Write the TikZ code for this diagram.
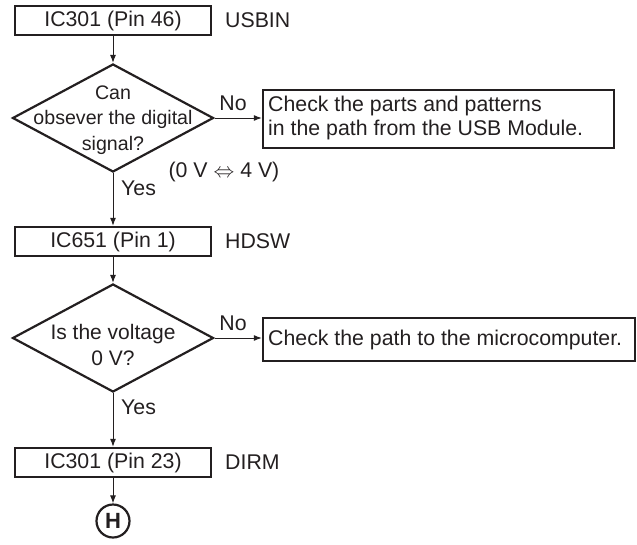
\documentclass[tikz,border=0pt]{standalone}
\usepackage{fontspec}
\setmainfont{Liberation Sans}
\usetikzlibrary{shapes.geometric,arrows.meta}
\definecolor{ink}{RGB}{35,31,32}
\tikzset{
  every node/.style={text=ink, font=\fontsize{21.3}{24.5}\selectfont},
  stepbox/.style={draw=ink, line width=2.4pt, minimum width=196pt, minimum height=29pt, inner sep=0pt},
  notebox/.style={draw=ink, line width=2.4pt, inner sep=0pt},
  decision/.style={draw=ink, diamond, line width=2.2pt, minimum width=201pt, minimum height=108pt, inner sep=0pt},
  conn/.style={draw=ink, line width=1pt, -{Latex[length=8pt,width=6pt]}},
  sidelabel/.style={anchor=west, inner sep=0pt},
}
\begin{document}
\begin{tikzpicture}[x=1pt,y=-1pt]
\useasboundingbox (0,0) rectangle (637,544);
% boxes
\node[stepbox] (b1) at (113,20.5) {IC301 (Pin 46)};
\node[sidelabel] (l1) at (225,20.5) {USBIN};
\node[decision] (d1) at (113,118) {};
\node[align=center, inner sep=0pt, font=\fontsize{19.6}{25.5}\selectfont] (t1) at (113,120) {Can\\obsever the digital\\signal?};
\node[notebox, minimum width=351pt, minimum height=58pt] (n1) at (438.5,119) {};
\node[align=left, anchor=west, inner sep=0pt] (nt1) at (268,118) {Check the parts and patterns\\in the path from the USB Module.};
\node (no1) at (233,103) {No};
\node (v1) at (224,172) {(0 V $\Leftrightarrow$ 4 V)};
\node[sidelabel] (y1) at (121,188) {Yes};

\node[stepbox] (b2) at (113,241.5) {IC651 (Pin 1)};
\node[sidelabel] (l2) at (225,241.5) {HDSW};
\node[decision] (d2) at (113,338) {};
\node[align=center, inner sep=0pt, font=\fontsize{21}{26}\selectfont] (t2) at (113,345) {Is the voltage\\0 V?};
\node[notebox, minimum width=372pt, minimum height=43pt] (n2) at (449,339.5) {};
\node[anchor=west, inner sep=0pt] (nt2) at (268,340) {Check the path to the microcomputer.};
\node (no2) at (233,323) {No};
\node[sidelabel] (y2) at (121,407) {Yes};

\node[stepbox] (b3) at (113,462.5) {IC301 (Pin 23)};
\node[sidelabel] (l3) at (225,462.5) {DIRM};
\node[circle, draw=ink, line width=2.2pt, minimum size=33pt, inner sep=0pt, font=\fontsize{22}{24}\bfseries] (h) at (113,521) {H};

% connectors
\draw[conn] (b1.south) -- (d1.north);
\draw[conn] (d1.east) -- (n1.west |- d1.east);
\draw[conn] (d1.south) -- (b2.north);
\draw[conn] (b2.south) -- (d2.north);
\draw[conn] (d2.east) -- (n2.west |- d2.east);
\draw[conn] (d2.south) -- (b3.north);
\draw[conn] (b3.south) -- (h.north);
\end{tikzpicture}
\end{document}
